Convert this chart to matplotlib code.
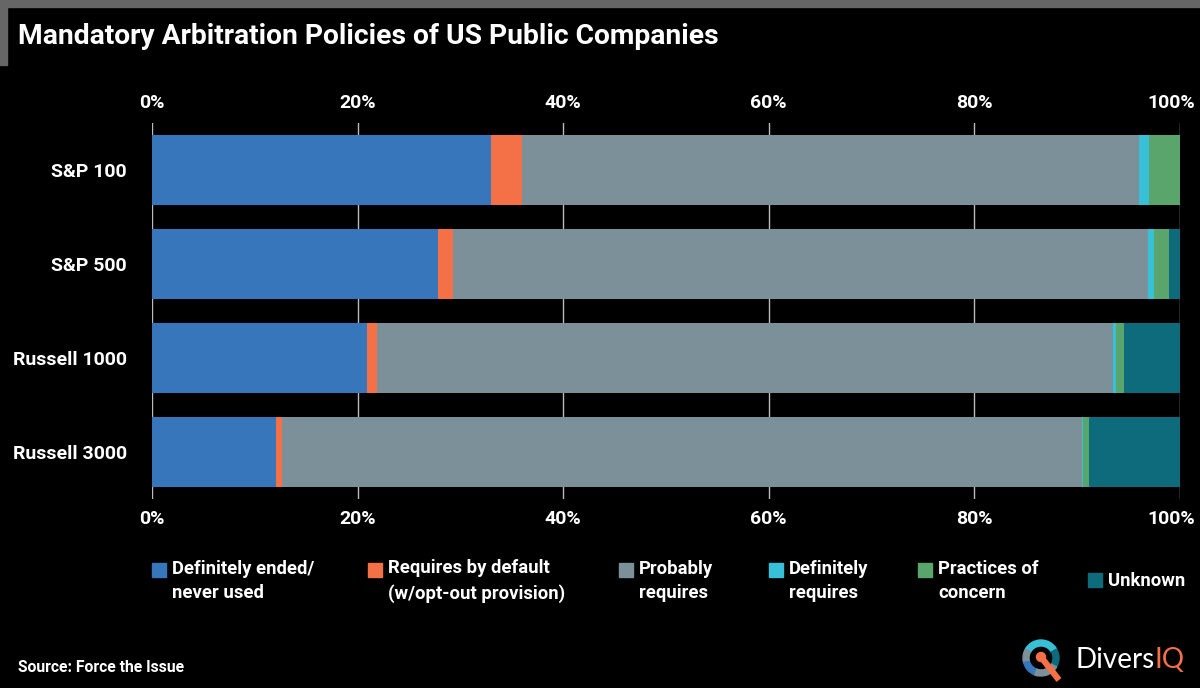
import matplotlib.pyplot as plt
import numpy as np
from matplotlib.patches import Rectangle, Wedge, Circle
from matplotlib.transforms import ScaledTranslation

plt.rcParams['font.family'] = ['Roboto', 'DejaVu Sans']

# data (percent of companies)
indices = ['S&P 100', 'S&P 500', 'Russell 1000', 'Russell 3000']
categories = ['Definitely ended/\nnever used', 'Requires by default\n(w/opt-out provision)',
              'Probably\nrequires', 'Definitely\nrequires', 'Practices of\nconcern', 'Unknown']
ended = [33.0, 27.8, 20.9, 12.1]
by_default = [3.0, 1.5, 1.0, 0.5]
probably = [60.0, 67.6, 71.6, 77.9]
definitely = [1.0, 0.6, 0.3, 0.1]
concern = [3.0, 1.4, 0.8, 0.5]
unknown = [0.0, 1.1, 5.4, 8.9]
ticks = [0, 20, 40, 60, 80, 100]

colors = ['#3776BB', '#F47046', '#7B9099', '#38C0D8', '#5AA56C', '#0E6B7B']
series = [ended, by_default, probably, definitely, concern, unknown]

fig = plt.figure(figsize=(12, 6.88), dpi=100, facecolor='black')

# main chart
ax = fig.add_axes([152/1200, 1-499/688, (1180-152)/1200, (499-123)/688])
ax.set_facecolor('black')
y = np.arange(len(indices))
left = np.zeros(len(indices))
for vals, c in zip(series, colors):
    ax.barh(y, vals, left=left, height=0.745, color=c, zorder=3)
    left += np.array(vals)

ax.set_xlim(0, 100)
ax.set_ylim(3.5, -0.5)
ax.set_xticks(ticks)
ax.set_xticklabels([f'{t}%' for t in ticks])
ax.set_yticks(y)
ax.set_yticklabels(indices)
ax.grid(axis='x', color='#BBBBBB', linewidth=1, zorder=0)
ax.tick_params(axis='x', length=0, labeltop=True, labelbottom=True, pad=8,
               labelsize=14, labelcolor='white')
ax.tick_params(axis='y', length=0, pad=18, labelsize=14, labelcolor='white')
for lbl in ax.get_xticklabels() + ax.get_yticklabels():
    lbl.set_fontweight('bold')
for s in ax.spines.values():
    s.set_visible(False)
# keep the 100% labels inside the picture
shift = ScaledTranslation(-9/100, 0, fig.dpi_scale_trans)
for t in ax.xaxis.get_major_ticks()[-1:]:
    t.label1.set_transform(t.label1.get_transform() + shift)
    t.label2.set_transform(t.label2.get_transform() + shift)

# overlay in pixel coordinates for frame, legend, footer
ov = fig.add_axes([0, 0, 1, 1], zorder=-1)
ov.set_xlim(0, 1200)
ov.set_ylim(688, 0)
ov.axis('off')
ov.add_patch(Rectangle((0, 0), 1200, 7, color='#666666'))
ov.add_patch(Rectangle((0, 0), 7, 65, color='#666666'))

fig.text(18/1200, 1-37/688, 'Mandatory Arbitration Policies of US Public Companies',
         color='white', fontsize=20.3, fontweight='bold', va='center', ha='left')

# legend
leg_x = [152, 368, 619, 769, 918, 1088]
for lx, lab, c in zip(leg_x, categories, colors):
    two = '\n' in lab
    sy = 563 if two else 573
    ov.add_patch(Rectangle((lx, sy), 14, 14, color=c))
    fig.text((lx + 20)/1200, 1-581/688, lab, color='white',
             fontsize=13.3, fontweight='bold', va='center', ha='left', linespacing=1.45)

fig.text(18/1200, 1-668/688, 'Source: Force the Issue', color='white',
         fontsize=11.3, fontweight='bold', va='center', ha='left')

# logo
cx, cy, r = 1041, 658, 18
for a1, a2, c in [(30, 150, '#38C0D8'), (-30, 30, '#0E6B7B'), (-110, -30, '#7B9099'),
                  (190, 250, '#3776BB'), (150, 190, '#7B9099'), (250, 260, '#7B9099')]:
    ov.add_patch(Wedge((cx, cy), r, -a2, -a1, width=6, color=c))
ov.plot([cx, 1059], [cy - 1, 680], color='#F47046', linewidth=4.5, solid_capstyle='butt')
ov.add_patch(Circle((cx, cy - 1), 4.5, color='#F47046'))
dv = fig.text(1075/1200, 1-660/688, 'Divers', color='white', fontsize=20,
              family='Lato', va='center', ha='left')
fig.canvas.draw()
x_end = dv.get_window_extent().x1
fig.text(x_end/1200, 1-660/688, 'IQ', color='#F47046', fontsize=20,
         family='Lato', va='center', ha='left')

fig.savefig('out.png', dpi=100, facecolor='black')
